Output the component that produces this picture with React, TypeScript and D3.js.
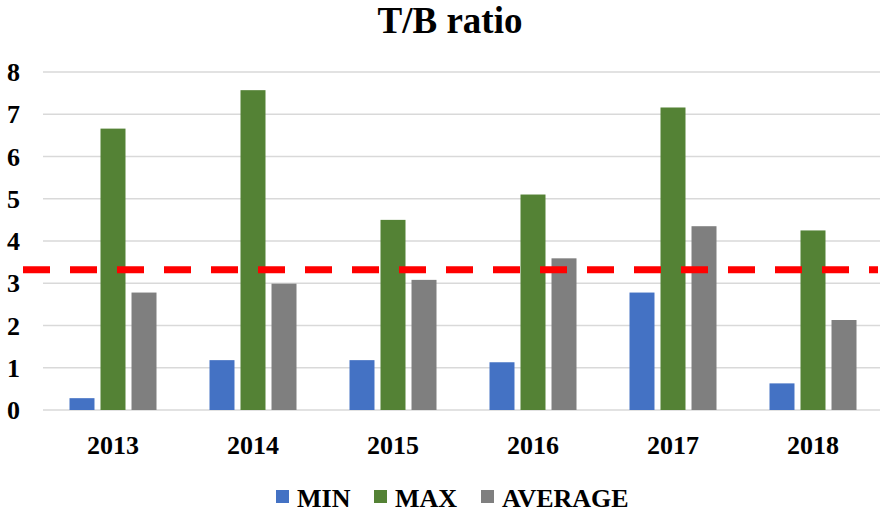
import React, { useEffect, useRef } from 'react';
import * as d3 from 'd3';

const years = ['2013', '2014', '2015', '2016', '2017', '2018'];
const seriesNames = ['MIN', 'MAX', 'AVERAGE'];
const minValues = [0.28, 1.18, 1.18, 1.13, 2.78, 0.63];
const maxValues = [6.66, 7.57, 4.5, 5.1, 7.16, 4.25];
const avgValues = [2.78, 2.99, 3.08, 3.59, 4.35, 2.13];
const thresholdValue = 3.32;
const yTicks = [0, 1, 2, 3, 4, 5, 6, 7, 8];
const colors = ['#4472c4', '#548235', '#7f7f7f'];

const W = 884;
const H = 512;
const FONT = '"Liberation Serif", "Times New Roman", serif';

const App = () => {
  const svgRef = useRef<SVGSVGElement>(null);

  useEffect(() => {
    const svg = d3.select(svgRef.current);
    svg.selectAll('*').remove();

    const left = 43, right = 883, top = 72, bottom = 410;
    const x = d3.scaleBand().domain(years).range([left, right]);
    const y = d3.scaleLinear().domain([0, 8]).range([bottom, top]);
    // three bars per year, ~25px wide with ~6px between them
    const inner = d3.scaleBand().domain(seriesNames).range([-43.5, 43.5]).paddingInner(0.194);

    // title
    svg.append('text')
      .attr('x', 450).attr('y', 33)
      .attr('text-anchor', 'middle')
      .style('font', `bold 37px ${FONT}`)
      .text('T/B ratio');

    // gridlines
    svg.append('g').selectAll('line')
      .data(yTicks)
      .join('line')
      .attr('x1', left).attr('x2', 880)
      .attr('y1', d => y(d)).attr('y2', d => y(d))
      .attr('stroke', '#d9d9d9')
      .attr('stroke-width', 1.5);

    // y labels
    svg.append('g').selectAll('text')
      .data(yTicks)
      .join('text')
      .attr('x', 20).attr('y', d => y(d) + 9)
      .attr('text-anchor', 'end')
      .style('font', `bold 26px ${FONT}`)
      .text(d => d);

    // bars
    const all = [minValues, maxValues, avgValues];
    all.forEach((vals, si) => {
      svg.append('g').selectAll('rect')
        .data(vals)
        .join('rect')
        .attr('x', (d, i) => x(years[i])! + x.bandwidth() / 2 + inner(seriesNames[si])!)
        .attr('width', inner.bandwidth())
        .attr('y', d => y(d))
        .attr('height', d => y(0) - y(d))
        .attr('fill', colors[si]);
    });

    // x labels
    svg.append('g').selectAll('text')
      .data(years)
      .join('text')
      .attr('x', d => x(d)! + x.bandwidth() / 2)
      .attr('y', 454)
      .attr('text-anchor', 'middle')
      .style('font', `bold 26px ${FONT}`)
      .text(d => d);

    // threshold dashed line
    svg.append('line')
      .attr('x1', 23).attr('x2', 878)
      .attr('y1', y(thresholdValue)).attr('y2', y(thresholdValue))
      .attr('stroke', '#ff0000')
      .attr('stroke-width', 7)
      .attr('stroke-dasharray', '27 20');

    // legend
    const legendX = [276, 374, 481];
    const legend = svg.append('g').selectAll('g')
      .data(seriesNames)
      .join('g')
      .attr('transform', (d, i) => `translate(${legendX[i]},490)`);
    legend.append('rect')
      .attr('width', 13).attr('height', 13)
      .attr('fill', (d, i) => colors[i]);
    legend.append('text')
      .attr('x', 21).attr('y', 17)
      .style('font', `bold 26px ${FONT}`)
      .text(d => d);
  }, []);

  return (
    <div style={{ position: 'absolute', left: 0, top: 0 }}>
      <svg ref={svgRef} width={W} height={H} style={{ display: 'block', background: '#fff' }} />
    </div>
  );
};

export default App;
